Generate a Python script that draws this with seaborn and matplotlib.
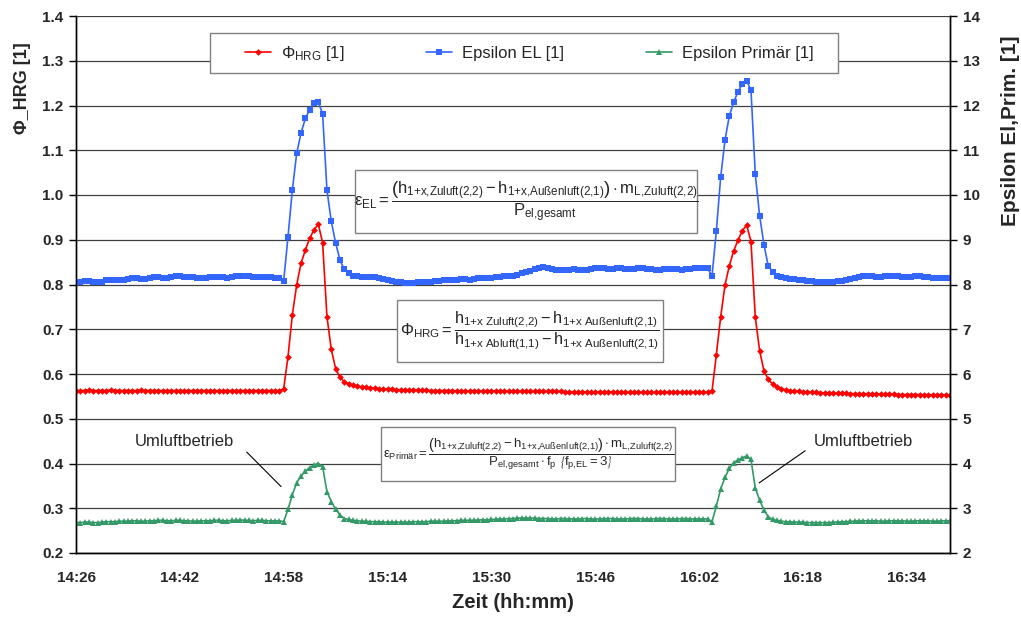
import numpy as np
import matplotlib
matplotlib.use("Agg")
import matplotlib.pyplot as plt
import seaborn as sns
from matplotlib.patches import Rectangle
from matplotlib.lines import Line2D

# ---------------- data ----------------
step_min = 40 / 60  # sampling interval in minutes (40 s), start 14:26

phi_hrg = [
    0.563, 0.563, 0.563, 0.564, 0.563, 0.563, 0.563, 0.563, 0.564, 0.563,
    0.563, 0.563, 0.563, 0.563, 0.563, 0.564, 0.563, 0.563, 0.563, 0.563,
    0.563, 0.563, 0.563, 0.563, 0.563, 0.563, 0.563, 0.563, 0.563, 0.563,
    0.563, 0.563, 0.563, 0.563, 0.563, 0.563, 0.563, 0.563, 0.563, 0.563,
    0.563, 0.563, 0.563, 0.563, 0.563, 0.563, 0.563, 0.563, 0.567, 0.639,
    0.732, 0.799, 0.847, 0.877, 0.903, 0.922, 0.935, 0.893, 0.728, 0.655,
    0.612, 0.593, 0.583, 0.578, 0.575, 0.573, 0.571, 0.570, 0.569, 0.568,
    0.567, 0.567, 0.566, 0.566, 0.565, 0.565, 0.565, 0.564, 0.564, 0.564,
    0.564, 0.564, 0.563, 0.563, 0.563, 0.563, 0.563, 0.563, 0.562, 0.562,
    0.562, 0.562, 0.562, 0.562, 0.562, 0.562, 0.562, 0.562, 0.562, 0.562,
    0.561, 0.561, 0.561, 0.561, 0.561, 0.561, 0.561, 0.561, 0.561, 0.561,
    0.561, 0.561, 0.561, 0.560, 0.560, 0.560, 0.560, 0.560, 0.560, 0.560,
    0.560, 0.560, 0.560, 0.560, 0.560, 0.560, 0.559, 0.559, 0.559, 0.559,
    0.559, 0.559, 0.559, 0.559, 0.559, 0.559, 0.559, 0.559, 0.559, 0.559,
    0.559, 0.559, 0.559, 0.559, 0.559, 0.559, 0.559, 0.562, 0.643, 0.728,
    0.799, 0.842, 0.875, 0.899, 0.920, 0.933, 0.896, 0.727, 0.652, 0.607,
    0.588, 0.577, 0.571, 0.567, 0.565, 0.563, 0.562, 0.561, 0.560, 0.560,
    0.559, 0.559, 0.558, 0.558, 0.558, 0.557, 0.557, 0.557, 0.557, 0.556,
    0.556, 0.556, 0.556, 0.556, 0.555, 0.555, 0.555, 0.555, 0.555, 0.555,
    0.554, 0.554, 0.554, 0.554, 0.554, 0.554, 0.553, 0.553, 0.553, 0.553,
    0.553, 0.553, 0.553,
]

eps_el = [
    8.05, 8.06, 8.07, 8.07, 8.06, 8.05, 8.05, 8.10, 8.10, 8.09,
    8.09, 8.10, 8.12, 8.15, 8.14, 8.12, 8.13, 8.15, 8.16, 8.16,
    8.15, 8.15, 8.17, 8.18, 8.18, 8.17, 8.16, 8.16, 8.15, 8.14,
    8.15, 8.16, 8.17, 8.17, 8.16, 8.15, 8.16, 8.18, 8.19, 8.19,
    8.18, 8.17, 8.17, 8.16, 8.17, 8.16, 8.15, 8.15, 8.08, 9.07,
    10.11, 10.93, 11.38, 11.71, 11.90, 12.06, 12.08, 11.81, 10.11, 9.41,
    8.93, 8.55, 8.34, 8.26, 8.20, 8.18, 8.17, 8.16, 8.17, 8.16,
    8.14, 8.12, 8.10, 8.08, 8.06, 8.05, 8.04, 8.03, 8.04, 8.05,
    8.05, 8.06, 8.06, 8.07, 8.08, 8.09, 8.10, 8.10, 8.11, 8.12,
    8.12, 8.11, 8.12, 8.14, 8.15, 8.14, 8.15, 8.16, 8.17, 8.18,
    8.19, 8.20, 8.22, 8.25, 8.28, 8.31, 8.34, 8.37, 8.38, 8.37,
    8.35, 8.33, 8.32, 8.32, 8.33, 8.34, 8.33, 8.32, 8.33, 8.35,
    8.36, 8.37, 8.36, 8.35, 8.35, 8.36, 8.36, 8.35, 8.34, 8.35,
    8.36, 8.36, 8.35, 8.34, 8.33, 8.33, 8.34, 8.35, 8.35, 8.34,
    8.33, 8.34, 8.35, 8.36, 8.36, 8.36, 8.36, 8.19, 9.20, 10.40,
    11.23, 11.77, 12.07, 12.31, 12.48, 12.55, 12.35, 10.46, 9.54, 8.89,
    8.41, 8.29, 8.19, 8.16, 8.14, 8.13, 8.12, 8.10, 8.09, 8.08,
    8.07, 8.06, 8.06, 8.05, 8.05, 8.06, 8.07, 8.08, 8.10, 8.12,
    8.14, 8.16, 8.18, 8.19, 8.18, 8.17, 8.17, 8.18, 8.19, 8.19,
    8.18, 8.17, 8.16, 8.17, 8.18, 8.18, 8.17, 8.16, 8.15, 8.15,
    8.14, 8.15, 8.15,
]

eps_prim = [
    2.68, 2.68, 2.69, 2.69, 2.68, 2.68, 2.69, 2.70, 2.70, 2.70,
    2.71, 2.71, 2.71, 2.72, 2.72, 2.71, 2.71, 2.72, 2.72, 2.73,
    2.73, 2.72, 2.72, 2.73, 2.73, 2.72, 2.72, 2.71, 2.71, 2.72,
    2.72, 2.72, 2.73, 2.73, 2.72, 2.72, 2.73, 2.73, 2.74, 2.73,
    2.73, 2.72, 2.73, 2.73, 2.72, 2.72, 2.72, 2.72, 2.70, 2.98,
    3.30, 3.57, 3.72, 3.83, 3.91, 3.97, 4.00, 3.93, 3.37, 3.15,
    2.98, 2.85, 2.77, 2.75, 2.73, 2.72, 2.71, 2.71, 2.70, 2.70,
    2.70, 2.69, 2.69, 2.69, 2.69, 2.69, 2.69, 2.69, 2.70, 2.70,
    2.70, 2.70, 2.71, 2.71, 2.71, 2.71, 2.72, 2.72, 2.72, 2.73,
    2.73, 2.73, 2.73, 2.74, 2.74, 2.74, 2.75, 2.75, 2.76, 2.76,
    2.77, 2.77, 2.78, 2.78, 2.78, 2.78, 2.78, 2.77, 2.77, 2.77,
    2.76, 2.76, 2.77, 2.77, 2.76, 2.76, 2.76, 2.77, 2.77, 2.76,
    2.76, 2.76, 2.77, 2.77, 2.77, 2.76, 2.76, 2.76, 2.77, 2.77,
    2.77, 2.76, 2.76, 2.76, 2.77, 2.77, 2.77, 2.76, 2.76, 2.76,
    2.77, 2.77, 2.76, 2.76, 2.76, 2.76, 2.76, 2.70, 3.05, 3.43,
    3.69, 3.89, 4.02, 4.08, 4.13, 4.17, 4.09, 3.45, 3.18, 2.96,
    2.81, 2.75, 2.73, 2.71, 2.70, 2.70, 2.69, 2.69, 2.69, 2.68,
    2.68, 2.68, 2.68, 2.68, 2.68, 2.69, 2.69, 2.70, 2.70, 2.71,
    2.71, 2.72, 2.72, 2.72, 2.72, 2.72, 2.71, 2.71, 2.72, 2.72,
    2.72, 2.72, 2.71, 2.71, 2.72, 2.72, 2.72, 2.72, 2.71, 2.71,
    2.72, 2.72, 2.72,
]

x_tick_labels = ["14:26", "14:42", "14:58", "15:14", "15:30",
                 "15:46", "16:02", "16:18", "16:34"]

series_labels = [r"$\Phi_{\mathrm{HRG}}$ [1]", "Epsilon EL [1]", "Epsilon Primär [1]"]
series_colors = ["#FF0000", "#3366FF", "#339966"]

# ---------------- style ----------------
sns.set_style("white")
plt.rcParams["font.family"] = ["Liberation Sans", "DejaVu Sans"]
plt.rcParams["mathtext.fontset"] = "custom"
plt.rcParams["mathtext.rm"] = "Liberation Sans"
plt.rcParams["mathtext.it"] = "Liberation Sans"
plt.rcParams["mathtext.bf"] = "Liberation Sans:bold"

n = len(phi_hrg)
t = np.arange(n) * step_min

fig = plt.figure(figsize=(10.21, 6.22), dpi=100)
ax = fig.add_axes([76 / 1021, 1 - 553 / 622, 874 / 1021, 537 / 622])
ax2 = ax.twinx()

mk = [dict(marker="D", markersize=3.4), dict(marker="s", markersize=4.2),
      dict(marker="^", markersize=4.8)]

sns.lineplot(x=t, y=phi_hrg, ax=ax, color=series_colors[0], lw=1.2,
             markeredgewidth=0, legend=False, **mk[0])
sns.lineplot(x=t, y=eps_el, ax=ax2, color=series_colors[1], lw=1.2,
             markeredgewidth=0, legend=False, **mk[1])
sns.lineplot(x=t, y=eps_prim, ax=ax2, color=series_colors[2], lw=1.2,
             markeredgewidth=0, legend=False, **mk[2])

ax.set_xlim(0, t[-1])
ax.set_ylim(0.2, 1.4)
ax2.set_ylim(2, 14)
yt = np.round(np.arange(0.2, 1.41, 0.1), 1)
ax.set_yticks(yt)
ax.set_yticklabels([f"{v:.1f}" for v in yt])
ax2.set_yticks(range(2, 15))

xt = np.arange(0, t[-1], 8)
xl = [x_tick_labels[i // 2] if i % 2 == 0 else "" for i in range(len(xt))]
ax.set_xticks(xt)
ax.set_xticklabels(xl)

for a in (ax, ax2):
    a.tick_params(axis="both", direction="out", length=5, width=1, color="black",
                  labelsize=11, pad=4)
    for lab in a.get_xticklabels() + a.get_yticklabels():
        lab.set_fontweight("bold")
    a.spines["top"].set_visible(False)
    for s in ("left", "right", "bottom"):
        a.spines[s].set_color("black")
        a.spines[s].set_linewidth(1.0)
ax.tick_params(axis="x", pad=8)

ax.yaxis.grid(True, color="#404040", lw=0.9)
ax.xaxis.grid(False)
ax2.grid(False)

ax.set_xlabel("Zeit (hh:mm)", fontsize=14.5, fontweight="bold", labelpad=6)
ax.set_ylabel("Φ_HRG [1]", fontsize=13, fontweight="bold")
ax2.set_ylabel("Epsilon El,Prim. [1]", fontsize=15, fontweight="bold")
ax.yaxis.set_label_coords(-0.052, 0.866)
ax2.yaxis.set_label_coords(1.058, 0.787)

# ---------------- legend ----------------
ax2.add_patch(Rectangle((0.1538, 0.8939), 0.7181, 0.0744, transform=ax2.transAxes,
                        facecolor="white", edgecolor="#808080", lw=1.0, zorder=8))
handles = [Line2D([], [], color=c, lw=1.2, markeredgewidth=0, **m)
           for c, m in zip(series_colors, mk)]
leg = ax2.legend(handles, series_labels, loc="center left",
                 bbox_to_anchor=(0.1938, 0.931), ncol=3, fontsize=12,
                 frameon=False, borderpad=0, handlelength=1.55,
                 handletextpad=0.6, columnspacing=4.9, borderaxespad=0)
leg.set_zorder(10)

# ---------------- formula boxes ----------------
boxes = [
    (0.3196, 0.5959, 0.3911, 0.1173),
    (0.3676, 0.3557, 0.3042, 0.1154),
    (0.3493, 0.1341, 0.3362, 0.1005),
]
formulas = [
    r"$\varepsilon_{\mathrm{EL}} = \dfrac{\left(h_{\text{1+x,Zuluft(2,2)}} - h_{\text{1+x,Außenluft(2,1)}}\right)\cdot m_{\text{L,Zuluft(2,2)}}}{P_{\text{el,gesamt}}}$",
    r"$\Phi_{\mathrm{HRG}} = \dfrac{h_{\text{1+x Zuluft(2,2)}} - h_{\text{1+x Außenluft(2,1)}}}{h_{\text{1+x Abluft(1,1)}} - h_{\text{1+x Außenluft(2,1)}}}$",
    r"$\varepsilon_{\text{Primär}} = \dfrac{\left(h_{\text{1+x,Zuluft(2,2)}} - h_{\text{1+x,Außenluft(2,1)}}\right)\cdot m_{\text{L,Zuluft(2,2)}}}{P_{\text{el,gesamt}}\cdot f_{\mathrm{p}}\ \left\{f_{\text{p,EL}} = 3\right\}}$",
]
fsizes = [12, 11.8, 9.5]
for (x0, y0, w, h), f, fs in zip(boxes, formulas, fsizes):
    ax2.add_patch(Rectangle((x0, y0), w, h, transform=ax2.transAxes,
                            facecolor="white", edgecolor="#808080", lw=1.0, zorder=8))
    ax2.text(x0 + w / 2, y0 + h / 2, f, transform=ax2.transAxes, ha="center",
             va="center", fontsize=fs, zorder=9)

# ---------------- annotations ----------------
ax.text(16.7, 0.449, "Umluftbetrieb", fontsize=12, ha="center", va="center")
ax.annotate("", xy=(31.9, 0.344), xytext=(26.0, 0.430),
            arrowprops=dict(arrowstyle="-", color="black", lw=0.8))
ax.text(121.3, 0.449, "Umluftbetrieb", fontsize=12, ha="center", va="center")
ax.annotate("", xy=(104.9, 0.353), xytext=(112.7, 0.432),
            arrowprops=dict(arrowstyle="-", color="black", lw=0.8))

fig.savefig("out.png", dpi=100)
